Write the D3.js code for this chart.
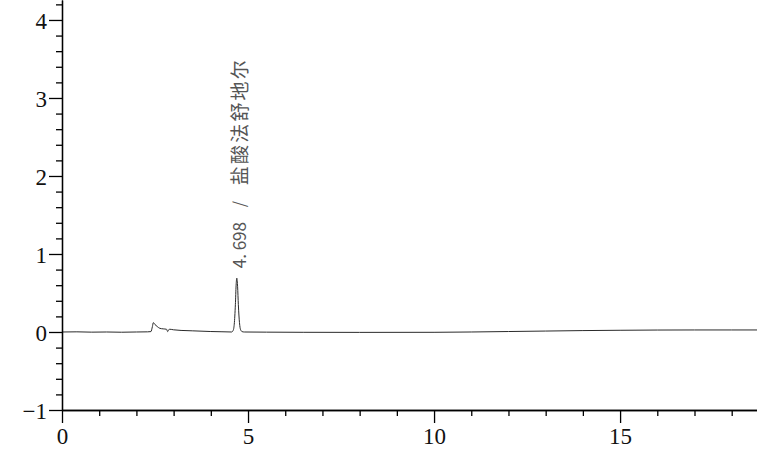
<!DOCTYPE html>
<html>
<head>
<meta charset="utf-8">
<script src="https://cdn.jsdelivr.net/npm/d3@7"></script>
<style>
  html, body { margin: 0; padding: 0; background: #fff; }
  svg { display: block; }
</style>
</head>
<body>
<svg id="chart" width="757" height="456"></svg>
<script>
// ---- data ----
const times = [0, 0.4, 0.8, 1.2, 1.6, 2.0, 2.3, 2.39, 2.43, 2.455, 2.5, 2.56, 2.63, 2.72, 2.81, 2.84, 2.87, 2.9, 3.0, 3.2, 3.5, 4.0, 4.3, 4.56, 4.6, 4.63, 4.66, 4.68, 4.698, 4.72, 4.74, 4.77, 4.8, 4.84, 4.9, 5.5, 6.5, 8, 10, 11, 12, 13, 14, 15, 16, 17, 18, 18.68];
const signal = [0.0, 0.002, -0.002, 0.0, -0.003, 0.0, 0.002, 0.005, 0.07, 0.12, 0.095, 0.07, 0.047, 0.04, 0.035, 0.005, 0.03, 0.035, 0.028, 0.02, 0.015, 0.006, 0.003, 0.0, 0.02, 0.1, 0.35, 0.6, 0.69, 0.58, 0.35, 0.12, 0.03, 0.005, 0.0, -0.002, -0.004, -0.005, -0.004, 0.0, 0.006, 0.012, 0.018, 0.022, 0.025, 0.026, 0.026, 0.026];
const xMajorTicks = [0, 5, 10, 15];
const xTickLabels = ["0", "5", "10", "15"];
const xMinorTicks = [1, 2, 3, 4, 6, 7, 8, 9, 11, 12, 13, 14, 16, 17, 18];
const yMajorTicks = [-1, 0, 1, 2, 3, 4];
const yTickLabels = ["\u22121", "0", "1", "2", "3", "4"];
const yMinorTicks = [-0.8, -0.6, -0.4, -0.2, 0.2, 0.4, 0.6, 0.8, 1.2, 1.4, 1.6, 1.8, 2.2, 2.4, 2.6, 2.8, 3.2, 3.4, 3.6, 3.8, 4.2];
const peakTime = [4.698];
const peakHeight = [0.69];
const peakLabel = ["4. 698 / \u76d0\u9178\u6cd5\u8212\u5730\u5c14"];
const xDomain = [0, 18.68];
const yDomain = [-1, 4.256];

// ---- drawing ----
const svg = d3.select("#chart");
const mLeft = 62, mRight = 757, mTop = 0, mBottom = 410;
const x = d3.scaleLinear().domain(xDomain).range([mLeft, mRight]);
const y = d3.scaleLinear().domain(yDomain).range([mBottom, mTop]);

const serif = "'Liberation Serif', 'DejaVu Serif', serif";

// chromatogram trace
const line = d3.line().x((d, i) => x(times[i])).y(d => y(d)).curve(d3.curveMonotoneX);
svg.append("path")
  .datum(signal)
  .attr("d", line)
  .attr("fill", "none")
  .attr("stroke", "#2a2a2a")
  .attr("stroke-width", 1);

// x axis: minor ticks
const gxMinor = svg.append("g").attr("transform", `translate(0,${mBottom})`)
  .call(d3.axisBottom(x).tickValues(xMinorTicks).tickSize(6).tickSizeOuter(0).tickFormat(""));
// x axis: major ticks
const gx = svg.append("g").attr("transform", `translate(0,${mBottom})`)
  .call(d3.axisBottom(x).tickValues(xMajorTicks).tickSize(13).tickSizeOuter(0)
    .tickPadding(5).tickFormat((d, i) => xTickLabels[i]));

// y axis: minor ticks
const gyMinor = svg.append("g").attr("transform", `translate(${mLeft},0)`)
  .call(d3.axisLeft(y).tickValues(yMinorTicks).tickSize(6).tickSizeOuter(0).tickFormat(""));
// y axis: major ticks
const gy = svg.append("g").attr("transform", `translate(${mLeft},0)`)
  .call(d3.axisLeft(y).tickValues(yMajorTicks).tickSize(13).tickSizeOuter(0)
    .tickPadding(2).tickFormat((d, i) => yTickLabels[i]));

[gxMinor, gx, gyMinor, gy].forEach(g => {
  g.selectAll(".domain").attr("stroke", "#000").attr("stroke-width", 1.3);
  g.selectAll(".tick line").attr("stroke", "#000").attr("stroke-width", 1.3);
  g.selectAll("text").attr("font-family", serif).attr("font-size", 23).attr("fill", "#111");
});
gx.selectAll("text").attr("dy", "0.71em");
gy.selectAll("text").attr("dy", "0.36em");

// peak annotation (rotated, reading bottom to top)
const labels = svg.selectAll("text.peak")
  .data(peakLabel)
  .enter().append("text")
  .attr("class", "peak")
  .attr("transform", (d, i) => `translate(${x(peakTime[i]) + 1},${y(peakHeight[i]) - 10}) rotate(-90)`)
  .attr("text-anchor", "start")
  .attr("dominant-baseline", "central")
  .attr("font-family", "'Noto Sans CJK SC', sans-serif")
  .attr("fill", "#555");

labels.each(function(d) {
  const parts = d.split(" / ");
  const t = d3.select(this);
  t.append("tspan").attr("x", 0).attr("font-size", 17)
    .attr("textLength", 46).attr("lengthAdjust", "spacing").text(parts[0]);
  t.append("tspan").attr("x", 61).attr("font-size", 16).text("/");
  t.append("tspan").attr("x", 83).attr("font-size", 19)
    .attr("textLength", 125).attr("lengthAdjust", "spacing").text(parts[1]);
});
</script>
</body>
</html>
